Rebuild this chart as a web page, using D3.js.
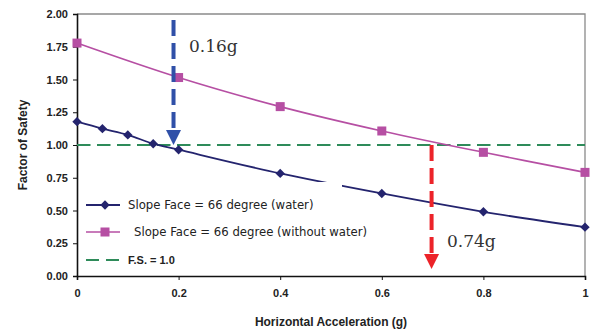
<!DOCTYPE html>
<html>
<head>
<meta charset="utf-8">
<script src="https://cdn.jsdelivr.net/npm/d3@7"></script>
<style>
  html, body { margin: 0; padding: 0; background: #fff; }
  svg { display: block; }
</style>
</head>
<body>
<div id="chart"></div>
<script>
// Factor of safety vs horizontal acceleration for a 66° slope face
const accel = [0, 0.05, 0.1, 0.15, 0.2, 0.4, 0.6, 0.8, 1.0];
const fsWater = [1.178, 1.125, 1.077, 1.01, 0.964, 0.783, 0.63, 0.49, 0.373];
const accelDry = [0, 0.2, 0.4, 0.6, 0.8, 1.0];
const fsDry = [1.778, 1.515, 1.293, 1.107, 0.944, 0.791];
const fsLimit = 1.0;
const xTicks = [0, 0.2, 0.4, 0.6, 0.8, 1];
const yTicks = [0, 0.25, 0.5, 0.75, 1.0, 1.25, 1.5, 1.75, 2.0];
const legendLabels = [
  "Slope Face = 66 degree (water)",
  "Slope Face = 66 degree (without water)",
  "F.S. = 1.0"
];
// critical accelerations marked with arrows
const critWater = { x: 0.19, label: "0.16g" };
const critDry = { x: 0.698, label: "0.74g" };

const W = 592, H = 331;
const m = { left: 77, top: 14, right: 585, bottom: 276 };

const svg = d3.select("#chart").append("svg").attr("width", W).attr("height", H);

const x = d3.scaleLinear().domain([0, 1]).range([m.left, m.right]);
const y = d3.scaleLinear().domain([0, 2]).range([m.bottom, m.top]);

const navy = "#24246e", pink = "#b64fa3", green = "#2e8b5a", blue = "#3050a8", red = "#ec2329";

// frame: top and right borders in grey
svg.append("path")
  .attr("d", `M${m.left},${m.top}H${m.right}V${m.bottom}`)
  .attr("fill", "none").attr("stroke", "#8a8a8a").attr("stroke-width", 1.3);

// axes
const yAxis = d3.axisLeft(y).tickValues(yTicks).tickFormat(d3.format(".2f")).tickSize(4).tickPadding(5);
const xAxis = d3.axisBottom(x).tickValues(xTicks).tickFormat(d => d === 0 ? "0" : d === 1 ? "1" : d3.format(".1f")(d)).tickSize(4).tickPadding(9);

const gy = svg.append("g").attr("transform", `translate(${m.left},0)`).call(yAxis);
const gx = svg.append("g").attr("transform", `translate(0,${m.bottom})`).call(xAxis);
[gy, gx].forEach(g => {
  g.select(".domain").attr("stroke", "#111").attr("stroke-width", 1.6);
  g.selectAll(".tick line").attr("stroke", "#111").attr("stroke-width", 1);
  g.selectAll(".tick text").attr("fill", "#222")
    .style("font-family", "'Liberation Sans', Arial, sans-serif")
    .style("font-size", "11px").style("font-weight", "bold");
});

// axis titles
svg.append("text")
  .attr("x", 331).attr("y", 326).attr("text-anchor", "middle")
  .style("font-family", "'Liberation Sans', Arial, sans-serif")
  .style("font-size", "12px").style("font-weight", "bold").attr("fill", "#222")
  .text("Horizontal Acceleration (g)");
svg.append("text")
  .attr("transform", "translate(27,145) rotate(-90)").attr("text-anchor", "middle")
  .style("font-family", "'Liberation Sans', Arial, sans-serif")
  .style("font-size", "12px").style("font-weight", "bold").attr("fill", "#222")
  .text("Factor of Safety");

// F.S. = 1.0 reference line
svg.append("line")
  .attr("x1", x(0)).attr("x2", x(1)).attr("y1", y(fsLimit)).attr("y2", y(fsLimit))
  .attr("stroke", green).attr("stroke-width", 2).attr("stroke-dasharray", "13.5,6.5");

const line = d3.line().x(d => x(d[0])).y(d => y(d[1])).curve(d3.curveCatmullRom.alpha(0.5));
const waterPts = accel.map((a, i) => [a, fsWater[i]]);
const dryPts = accelDry.map((a, i) => [a, fsDry[i]]);

svg.append("path").attr("d", line(dryPts)).attr("fill", "none").attr("stroke", pink).attr("stroke-width", 1.6);
svg.append("path").attr("d", line(waterPts)).attr("fill", "none").attr("stroke", navy).attr("stroke-width", 1.8);

const diamond = d3.symbol().type(d3.symbolDiamond2).size(56);
svg.append("g").selectAll("path").data(waterPts).join("path")
  .attr("d", diamond).attr("transform", d => `translate(${x(d[0])},${y(d[1])})`).attr("fill", navy);
svg.append("g").selectAll("rect").data(dryPts).join("rect")
  .attr("x", d => x(d[0]) - 4.5).attr("y", d => y(d[1]) - 4.5)
  .attr("width", 9).attr("height", 9).attr("fill", pink);

// legend box (white fill, no border)
svg.append("rect").attr("x", 79).attr("y", 182).attr("width", 263).attr("height", 90).attr("fill", "#fff");
const lg = svg.append("g");
const rows = [205, 232, 260];
lg.append("line").attr("x1", 86).attr("x2", 120).attr("y1", rows[0]).attr("y2", rows[0]).attr("stroke", navy).attr("stroke-width", 1.8);
lg.append("path").attr("d", diamond).attr("transform", `translate(105,${rows[0]})`).attr("fill", navy);
lg.append("line").attr("x1", 86).attr("x2", 120).attr("y1", rows[1]).attr("y2", rows[1]).attr("stroke", pink).attr("stroke-width", 1.6);
lg.append("rect").attr("x", 100.5).attr("y", rows[1] - 4.5).attr("width", 9).attr("height", 9).attr("fill", pink);
lg.append("line").attr("x1", 86).attr("x2", 120).attr("y1", rows[2]).attr("y2", rows[2]).attr("stroke", green).attr("stroke-width", 2).attr("stroke-dasharray", "13,7");

const legendFont = "'DejaVu Sans', Verdana, sans-serif";
lg.append("text").attr("x", 128).attr("y", rows[0] + 4)
  .style("font-family", legendFont).style("font-size", "11.7px").attr("fill", "#222")
  .text(legendLabels[0]);
lg.append("text").attr("x", 134).attr("y", rows[1] + 4)
  .style("font-family", legendFont).style("font-size", "11.7px").attr("fill", "#222")
  .text(legendLabels[1]);
lg.append("text").attr("x", 128).attr("y", rows[2] + 4)
  .style("font-family", "'Liberation Sans', Arial, sans-serif").style("font-size", "11px").style("font-weight", "bold").attr("fill", "#222")
  .text(legendLabels[2]);

// critical acceleration arrows
function arrow(xv, yTop, yTip, color) {
  const px = x(xv);
  svg.append("line").attr("x1", px).attr("x2", px).attr("y1", yTop).attr("y2", yTip - 16)
    .attr("stroke", color).attr("stroke-width", 4).attr("stroke-dasharray", "16,7");
  svg.append("path")
    .attr("d", `M${px - 7.5},${yTip - 15}L${px + 7.5},${yTip - 15}L${px},${yTip}Z`)
    .attr("fill", color);
}
arrow(critWater.x, 20, y(fsLimit), blue);
arrow(critDry.x, y(fsLimit), 269, red);

const serif = "'DejaVu Serif', 'Liberation Serif', serif";
svg.append("text").attr("x", 189).attr("y", 52)
  .style("font-family", serif).style("font-size", "17px").attr("fill", "#333").text(critWater.label);
svg.append("text").attr("x", 447).attr("y", 247)
  .style("font-family", serif).style("font-size", "17px").attr("fill", "#333").text(critDry.label);
</script>
</body>
</html>
